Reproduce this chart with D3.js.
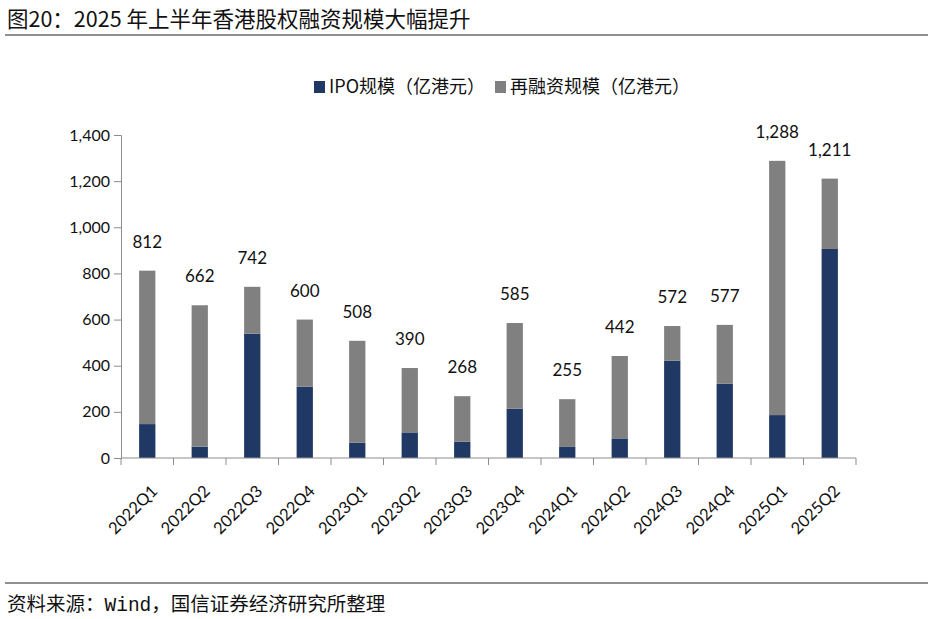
<!DOCTYPE html>
<html>
<head>
<meta charset="utf-8">
<script src="https://cdn.jsdelivr.net/npm/d3@7"></script>
<style>
  body { margin: 0; background: #fff; }
  svg { display: block; }
</style>
</head>
<body>
<svg width="941" height="619"></svg>
<script>
var quarters = ["2022Q1", "2022Q2", "2022Q3", "2022Q4", "2023Q1", "2023Q2", "2023Q3", "2023Q4",
                "2024Q1", "2024Q2", "2024Q3", "2024Q4", "2025Q1", "2025Q2"];
var totals = [812, 662, 742, 600, 508, 390, 268, 585, 255, 442, 572, 577, 1288, 1211];
var ipo = [147, 49, 539, 309, 66, 111, 71, 214, 48, 85, 422, 322, 186, 906];
var refinance = totals.map(function (t, i) { return t - ipo[i]; });
var yTicks = [0, 200, 400, 600, 800, 1000, 1200, 1400];
var seriesNames = ["IPO规模（亿港元）", "再融资规模（亿港元）"];
var colors = ["#203864", "#808080"];

var svg = d3.select("svg");
var latin = "Lato, 'Noto Sans', sans-serif";
var cjk = "'Noto Sans CJK SC', 'Noto Sans', sans-serif";

// title + rules
svg.append("text").attr("x", 7).attr("y", 27)
    .style("font-family", cjk).style("font-size", "21.5px").style("font-weight", 400)
    .attr("fill", "#111").text("图20：2025 年上半年香港股权融资规模大幅提升");
svg.append("line").attr("x1", 5).attr("x2", 928).attr("y1", 35).attr("y2", 35)
    .attr("stroke", "#222").attr("stroke-width", 1.2);
svg.append("line").attr("x1", 5).attr("x2", 928).attr("y1", 583).attr("y2", 583)
    .attr("stroke", "#222").attr("stroke-width", 1.2);
var foot = svg.append("text").attr("x", 7).attr("y", 611)
    .style("font-family", cjk).style("font-size", "19.5px").attr("fill", "#111");
foot.append("tspan").text("资料来源：");
foot.append("tspan").style("font-family", "'Liberation Mono', 'DejaVu Sans Mono', monospace").text("Wind");
foot.append("tspan").text("，国信证券经济研究所整理");

var x = d3.scaleBand().domain(quarters).range([121, 856]).paddingInner(0.69).paddingOuter(0.345);
var y = d3.scaleLinear().domain([0, 1400]).range([458, 135]);

var stackData = quarters.map(function (q, i) { return { q: q, ipo: ipo[i], refi: refinance[i] }; });
var stack = d3.stack().keys(["ipo", "refi"])(stackData);

svg.append("g").selectAll("g").data(stack).join("g")
    .attr("fill", function (d, i) { return colors[i]; })
    .selectAll("rect").data(function (d) { return d; }).join("rect")
    .attr("x", function (d) { return x(d.data.q); })
    .attr("width", x.bandwidth())
    .attr("y", function (d) { return y(d[1]); })
    .attr("height", function (d) { return y(d[0]) - y(d[1]); });

// total labels
svg.append("g").selectAll("text").data(quarters).join("text")
    .attr("x", function (d) { return x(d) + x.bandwidth() / 2; })
    .attr("y", function (d, i) { return y(totals[i]) - 23; })
    .attr("text-anchor", "middle")
    .style("font-family", latin).style("font-size", "17px").attr("fill", "#111")
    .text(function (d, i) { return d3.format(",")(totals[i]); });

// y axis
var yAxis = svg.append("g").attr("transform", "translate(121,0)")
    .call(d3.axisLeft(y).tickValues(yTicks).tickFormat(d3.format(",")).tickSize(7).tickPadding(4));
yAxis.select(".domain").attr("stroke", "#8c8c8c");
yAxis.selectAll(".tick line").attr("stroke", "#8c8c8c");
yAxis.selectAll("text").style("font-family", latin).style("font-size", "16px").attr("fill", "#111");

// x axis
var xAxis = svg.append("g").attr("transform", "translate(0,458)");
xAxis.append("line").attr("x1", 121).attr("x2", 856).attr("stroke", "#8c8c8c");
var bounds = d3.range(quarters.length + 1).map(function (i) { return x.range()[0] + i * x.step(); });
xAxis.selectAll(".b").data(bounds).join("line").attr("class", "b")
    .attr("x1", function (d) { return d; }).attr("x2", function (d) { return d; })
    .attr("y1", 0).attr("y2", 7).attr("stroke", "#8c8c8c");
xAxis.selectAll(".lbl").data(quarters).join("text").attr("class", "lbl")
    .attr("transform", function (d) {
        return "translate(" + (x(d) + x.bandwidth() / 2 + 3) + ",26) rotate(-45)";
    })
    .attr("text-anchor", "end").attr("dy", "0.7em")
    .style("font-family", latin).style("font-size", "16.5px").attr("fill", "#111")
    .text(function (d) { return d; });

// legend
var legend = svg.append("g").attr("transform", "translate(314,87)");
var lx = [0, 181];
seriesNames.forEach(function (name, i) {
    var g = legend.append("g").attr("transform", "translate(" + lx[i] + ",0)");
    g.append("rect").attr("x", 0).attr("y", -6).attr("width", 11).attr("height", 12).attr("fill", colors[i]);
    g.append("text").attr("x", 15).attr("y", 0).attr("dy", "0.35em")
        .style("font-family", cjk).style("font-size", "18px").attr("fill", "#111").text(name);
});
</script>
</body>
</html>
